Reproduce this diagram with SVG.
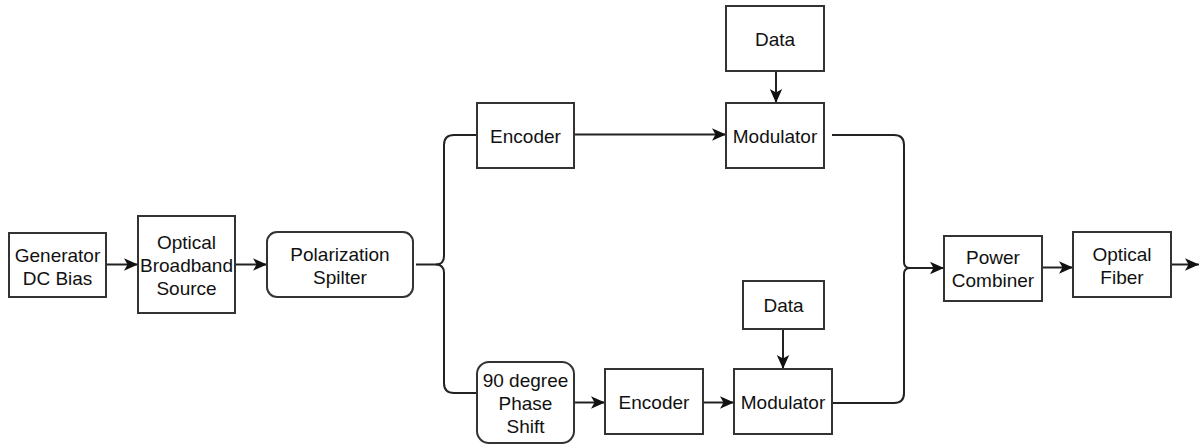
<svg xmlns="http://www.w3.org/2000/svg" width="1199" height="444" viewBox="0 0 1199 444">
<style>
.box{fill:#fff;stroke:#333;stroke-width:2}
.lbl{font-family:"Liberation Sans",Arial,sans-serif;font-size:19px;fill:#111;text-anchor:middle}
.ln{fill:none;stroke:#222;stroke-width:2}
</style>
<defs>
<marker id="ah" markerUnits="userSpaceOnUse" markerWidth="15" markerHeight="14" refX="14" refY="7" orient="auto">
<path d="M0,0.8 L14,7 L0,13.2 L3.5,7 Z" fill="#111"/>
</marker>
</defs>
<rect width="1199" height="444" fill="#fff"/>
<g id="connectors">
<path class="ln" d="M106,264.5 H138" marker-end="url(#ah)"/>
<path class="ln" d="M235,264.5 H267" marker-end="url(#ah)"/>
<path class="ln" d="M416,264.5 H436 Q444,264.5 444,256 V145 Q444,135 454,135 H477"/>
<path class="ln" d="M436,264.5 Q444,264.5 444,273 V383 Q444,393 454,393 H477"/>
<path class="ln" d="M574,134.5 H726" marker-end="url(#ah)"/>
<path class="ln" d="M776,71 V103" marker-end="url(#ah)"/>
<path class="ln" d="M574,402.5 H605" marker-end="url(#ah)"/>
<path class="ln" d="M703,402.5 H734" marker-end="url(#ah)"/>
<path class="ln" d="M783,329 V369" marker-end="url(#ah)"/>
<path class="ln" d="M832,135 H894 Q904,135 904,145 V262 Q904,268 910,268"/>
<path class="ln" d="M910,268 Q904,268 904,274 V393 Q904,403 894,403 H832"/>
<path class="ln" d="M906,268 H944" marker-end="url(#ah)"/>
<path class="ln" d="M1042,267.5 H1073" marker-end="url(#ah)"/>
<path class="ln" d="M1171,264.5 H1199" marker-end="url(#ah)"/>
</g>
<g id="generator">
<rect class="box" x="9" y="233" width="97" height="64"/>
<text class="lbl" x="57.5" y="261.5">Generator</text>
<text class="lbl" x="57.5" y="284.5">DC Bias</text>
</g>
<g id="source">
<rect class="box" x="138" y="216" width="97" height="97"/>
<text class="lbl" x="186.5" y="249">Optical</text>
<text class="lbl" x="186.5" y="272">Broadband</text>
<text class="lbl" x="186.5" y="295">Source</text>
</g>
<g id="splitter">
<rect class="box" x="267" y="232" width="146" height="65" rx="10"/>
<text class="lbl" x="340" y="261">Polarization</text>
<text class="lbl" x="340" y="284">Spilter</text>
</g>
<g id="encoder-top">
<rect class="box" x="477" y="103" width="97" height="65"/>
<text class="lbl" x="525.5" y="142.5">Encoder</text>
</g>
<g id="data-top">
<rect class="box" x="726" y="6" width="98" height="65"/>
<text class="lbl" x="775" y="45.5">Data</text>
</g>
<g id="modulator-top">
<rect class="box" x="726" y="103" width="98" height="65"/>
<text class="lbl" x="775" y="142.5">Modulator</text>
</g>
<g id="phase-shift">
<rect class="box" x="477" y="362" width="97" height="81" rx="12"/>
<text class="lbl" x="525.5" y="387">90 degree</text>
<text class="lbl" x="525.5" y="410">Phase</text>
<text class="lbl" x="525.5" y="433">Shift</text>
</g>
<g id="encoder-bottom">
<rect class="box" x="605" y="369" width="98" height="65"/>
<text class="lbl" x="654" y="408.5">Encoder</text>
</g>
<g id="data-bottom">
<rect class="box" x="743" y="281" width="81" height="48"/>
<text class="lbl" x="783.5" y="312">Data</text>
</g>
<g id="modulator-bottom">
<rect class="box" x="734" y="369" width="98" height="65"/>
<text class="lbl" x="783" y="408.5">Modulator</text>
</g>
<g id="combiner">
<rect class="box" x="944" y="236" width="98" height="65"/>
<text class="lbl" x="993" y="264">Power</text>
<text class="lbl" x="993" y="287">Combiner</text>
</g>
<g id="fiber">
<rect class="box" x="1073" y="232" width="98" height="65"/>
<text class="lbl" x="1122" y="260.5">Optical</text>
<text class="lbl" x="1122" y="283.5">Fiber</text>
</g>
</svg>
